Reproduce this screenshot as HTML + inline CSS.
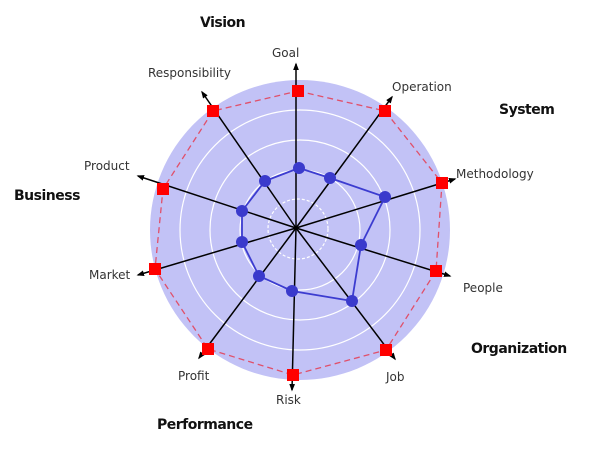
<!DOCTYPE html>
<html><head><meta charset="utf-8"><style>
html,body{margin:0;padding:0;background:#fff;}
svg text{font-family:"DejaVu Sans","Liberation Sans",sans-serif;fill:#333;}
.b{font-weight:bold;fill:#111;font-size:14px;letter-spacing:-0.5px}
.l{font-size:12px}
</style></head><body>
<svg width="600" height="458" viewBox="0 0 600 458" xmlns="http://www.w3.org/2000/svg">
<defs><marker id="a" markerWidth="5" markerHeight="5" refX="4" refY="2.5" orient="auto" markerUnits="strokeWidth"><path d="M0,0.6 L5,2.5 L0,4.4z" fill="#000"/></marker></defs>
<circle cx="300" cy="230" r="150" fill="#c2c2f6"/>
<g fill="none" stroke="#fff" stroke-width="1.2">
<circle cx="300" cy="230" r="120"/><circle cx="300" cy="230" r="90"/><circle cx="300" cy="230" r="60"/><circle cx="298" cy="229" r="30" stroke-dasharray="3 2"/>
</g>
<polygon points="298,91 385,111 442,183 436,271 386,350 293,375 208,349 155,269 163,189 213,111" fill="none" stroke="#e0506a" stroke-width="1.3" stroke-dasharray="6 4"/>
<g stroke="#000" stroke-width="1.5" marker-end="url(#a)">
<line x1="296" y1="228" x2="296" y2="64"/>
<line x1="296" y1="228" x2="202" y2="92"/>
<line x1="296" y1="228" x2="392" y2="97"/>
<line x1="296" y1="228" x2="455" y2="179"/>
<line x1="296" y1="228" x2="138" y2="176"/>
<line x1="296" y1="228" x2="138" y2="275"/>
<line x1="296" y1="228" x2="450" y2="276"/>
<line x1="296" y1="228" x2="395" y2="359"/>
<line x1="296" y1="228" x2="292" y2="390"/>
<line x1="296" y1="228" x2="199" y2="358"/>
</g>
<polygon points="299,168 330,178 385,197 361,245 352,301 292,291 259,276 242,242 242,211 265,181" fill="none" stroke="#3c3cd0" stroke-width="1.8"/>
<g fill="#3a3acc">
<circle cx="299" cy="168" r="6"/><circle cx="330" cy="178" r="6"/><circle cx="385" cy="197" r="6"/><circle cx="361" cy="245" r="6"/><circle cx="352" cy="301" r="6"/><circle cx="292" cy="291" r="6"/><circle cx="259" cy="276" r="6"/><circle cx="242" cy="242" r="6"/><circle cx="242" cy="211" r="6"/><circle cx="265" cy="181" r="6"/>
</g>
<g fill="#f00">
<rect x="292" y="85" width="12" height="12"/><rect x="379" y="105" width="12" height="12"/><rect x="436" y="177" width="12" height="12"/><rect x="430" y="265" width="12" height="12"/><rect x="380" y="344" width="12" height="12"/><rect x="287" y="369" width="12" height="12"/><rect x="202" y="343" width="12" height="12"/><rect x="149" y="263" width="12" height="12"/><rect x="157" y="183" width="12" height="12"/><rect x="207" y="105" width="12" height="12"/>
</g>
<g class="l">
<text x="272" y="57">Goal</text>
<text x="148" y="77">Responsibility</text>
<text x="392" y="91">Operation</text>
<text x="456" y="178">Methodology</text>
<text x="84" y="170">Product</text>
<text x="89" y="279">Market</text>
<text x="463" y="292">People</text>
<text x="386" y="381">Job</text>
<text x="276" y="404">Risk</text>
<text x="178" y="380">Profit</text>
</g>
<text class="b" x="200" y="27">Vision</text>
<text class="b" x="499" y="114">System</text>
<text class="b" x="14" y="200">Business</text>
<text class="b" x="471" y="353">Organization</text>
<text class="b" x="157" y="429">Performance</text>
</svg>
</body></html>
